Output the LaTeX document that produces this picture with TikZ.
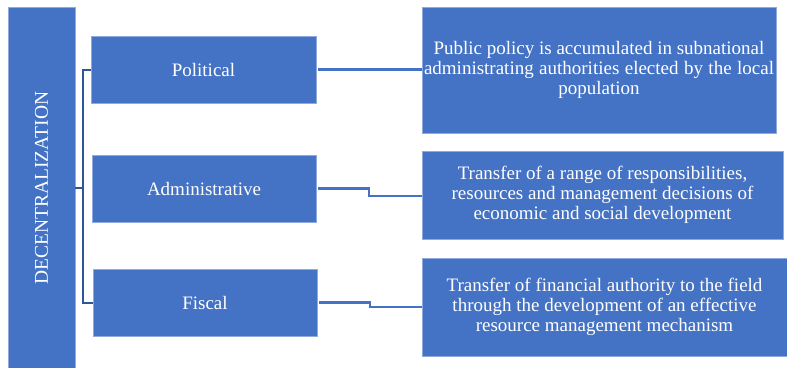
\documentclass[tikz,border=0pt]{standalone}
\usepackage{fontspec}
\setmainfont{Liberation Serif}
\definecolor{boxblue}{HTML}{4472C4}
\definecolor{edgeblue}{HTML}{8FAADC}
\definecolor{darkline}{HTML}{2F5597}
\begin{document}
\begin{tikzpicture}[x=1pt,y=-1pt,
  bbox/.style={fill=boxblue,draw=edgeblue,line width=0.6pt,text=white,inner sep=0pt,
    font=\fontsize{19}{20}\selectfont,align=center},
  conn/.style={draw=boxblue,line width=2.4pt},
  brk/.style={draw=darkline,line width=2pt}]
\useasboundingbox (0,0) rectangle (787,367);
\fill[white] (0,0) rectangle (787,367);
\node[bbox,minimum width=67pt,minimum height=362pt] (dec) at (41.5,188) {};
\node[rotate=90,text=white,font=\fontsize{19.5}{20}\selectfont] (dect) at (41.5,188) {DECENTRALIZATION};
\node[bbox,minimum width=225pt,minimum height=67pt] (pol) at (203.5,69.5) {Political};
\node[bbox,minimum width=224pt,minimum height=67pt] (adm) at (204,188.5) {Administrative};
\node[bbox,minimum width=224pt,minimum height=67pt] (fis) at (205,302.5) {Fiscal};
\node[bbox,minimum width=354pt,minimum height=126pt] (d1) at (599,70)
  {Public policy is accumulated in subnational\\\makebox[350pt][s]{administrating authorities elected by the local}\\population};
\node[bbox,minimum width=361pt,minimum height=88pt] (d2) at (602.5,195)
  {Transfer of a range of responsibilities,\\resources and management decisions of\\economic and social development};
\node[bbox,minimum width=365pt,minimum height=98pt] (d3) at (604.5,307)
  {Transfer of financial authority to the field\\through the development of an effective\\resource management mechanism};
% bracket
\coordinate (bt) at (83,69.5);
\coordinate (bb) at (83,303);
\draw[brk] (pol.west |- bt) -- (bt) -- (bb) -- (fis.west |- bb);
\draw[brk] (dec.east |- 0,188) -- (83,188);
% right connectors
\draw[conn] (pol.east) ++(2,0) -- (d1.west |- pol.east);
\draw[conn] (adm.east) ++(2,0) -- (369,188.5) -- (369,196) -- (d2.west |- 0,196);
\draw[conn] (fis.east) ++(2,0) -- (370,302.5) -- (370,307) -- (d3.west);
\end{tikzpicture}
\end{document}
